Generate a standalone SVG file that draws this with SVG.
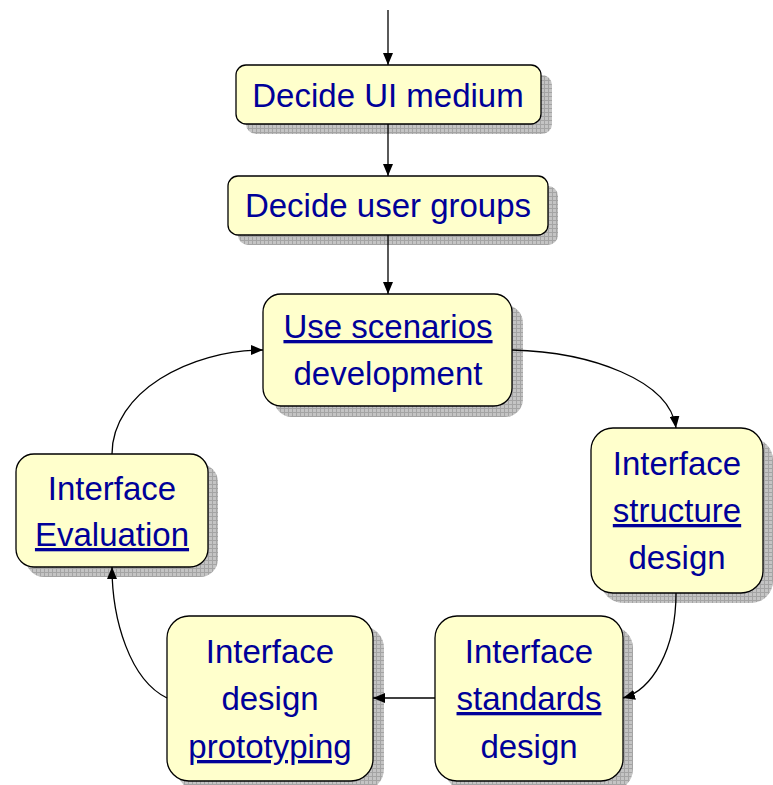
<svg xmlns="http://www.w3.org/2000/svg" width="773" height="785" viewBox="0 0 773 785">
  <style>
    .box { fill: #ffffcc; stroke: #000000; stroke-width: 1.3; }
    .shadow { fill: url(#grid); }
    .label { font-family: "Liberation Sans", Arial, sans-serif; font-size: 33px; fill: #000099; text-anchor: middle; }
    .link { text-decoration: underline; }
    .conn { fill: none; stroke: #000000; stroke-width: 1.3; marker-end: url(#arrow); }
  </style>
  <defs>
    <pattern id="grid" width="4" height="4" patternUnits="userSpaceOnUse">
      <rect width="4" height="4" fill="#c4c4c4"/>
      <path d="M0 0.5H4M0.5 0V4" stroke="#a4a4a4" stroke-width="1"/>
    </pattern>
    <marker id="arrow" viewBox="0 0 12 10" refX="12" refY="5" markerWidth="12" markerHeight="10" markerUnits="userSpaceOnUse" orient="auto">
      <path d="M0 0L12 5L0 10Z" fill="#000000"/>
    </marker>
  </defs>

  <g id="decide-ui-medium">
    <rect class="shadow" x="246" y="75" width="306" height="59" rx="10"/>
    <rect class="box" x="236" y="65" width="305" height="59" rx="10"/>
    <text class="label" x="388" y="107">Decide UI medium</text>
  </g>

  <g id="decide-user-groups">
    <rect class="shadow" x="238" y="186" width="320" height="59" rx="10"/>
    <rect class="box" x="228" y="176" width="320" height="59" rx="10"/>
    <text class="label" x="388" y="217">Decide user groups</text>
  </g>

  <g id="use-scenarios">
    <rect class="shadow" x="274" y="305" width="249" height="112" rx="18"/>
    <rect class="box" x="263" y="294" width="249" height="112" rx="18"/>
    <text class="label" x="388" y="338"><tspan class="link">Use scenarios</tspan></text>
    <text class="label" x="388" y="385">development</text>
  </g>

  <g id="interface-evaluation">
    <rect class="shadow" x="26" y="464" width="192" height="113" rx="18"/>
    <rect class="box" x="16" y="454" width="192" height="113" rx="18"/>
    <text class="label" x="112" y="500">Interface</text>
    <text class="label" x="112" y="546"><tspan class="link">Evaluation</tspan></text>
  </g>

  <g id="interface-structure">
    <rect class="shadow" x="601" y="438" width="172" height="165" rx="22"/>
    <rect class="box" x="591" y="428" width="172" height="165" rx="22"/>
    <text class="label" x="677" y="475">Interface</text>
    <text class="label" x="677" y="522"><tspan class="link">structure</tspan></text>
    <text class="label" x="677" y="569">design</text>
  </g>

  <g id="interface-prototyping">
    <rect class="shadow" x="177" y="626" width="207" height="165" rx="22"/>
    <rect class="box" x="167" y="616" width="206" height="165" rx="22"/>
    <text class="label" x="270" y="663">Interface</text>
    <text class="label" x="270" y="710">design</text>
    <text class="label" x="270" y="758"><tspan class="link">prototyping</tspan></text>
  </g>

  <g id="interface-standards">
    <rect class="shadow" x="445" y="626" width="188" height="165" rx="22"/>
    <rect class="box" x="435" y="616" width="188" height="165" rx="22"/>
    <text class="label" x="529" y="663">Interface</text>
    <text class="label" x="529" y="710"><tspan class="link">standards</tspan></text>
    <text class="label" x="529" y="758">design</text>
  </g>

  <!-- connectors are drawn last so arrowheads sit on top of the shadows -->
  <g id="connectors">
    <path class="conn" d="M388 10V65"/>
    <path class="conn" d="M388 124V176"/>
    <path class="conn" d="M388 235V294"/>
    <path class="conn" d="M512 350C590 352 670 380 676 428"/>
    <path class="conn" d="M676 593C676 650 652 690 623 698"/>
    <path class="conn" d="M435 698H373"/>
    <path class="conn" d="M167 698C130 680 112 620 112 567"/>
    <path class="conn" d="M112 454C112 392 190 350 263 350"/>
  </g>
</svg>
